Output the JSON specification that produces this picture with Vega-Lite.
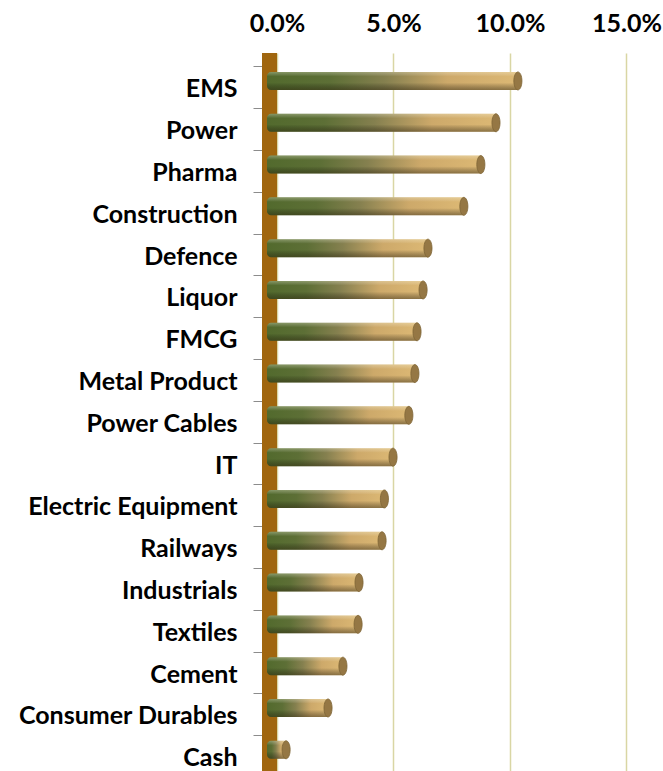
{
  "$schema": "https://vega.github.io/schema/vega-lite/v6.json",
  "autosize": "none",
  "padding": {"left": 277, "top": 53, "right": 0, "bottom": 0},
  "width": 386,
  "height": 718,
  "background": "#ffffff",
  "config": {"view": {"stroke": null}},
  "data": {"values": [
    {"sector": "EMS", "weight": 10.77},
    {"sector": "Power", "weight": 9.83},
    {"sector": "Pharma", "weight": 9.18},
    {"sector": "Construction", "weight": 8.45},
    {"sector": "Defence", "weight": 6.91},
    {"sector": "Liquor", "weight": 6.70},
    {"sector": "FMCG", "weight": 6.44},
    {"sector": "Metal Product", "weight": 6.35},
    {"sector": "Power Cables", "weight": 6.09},
    {"sector": "IT", "weight": 5.41},
    {"sector": "Electric Equipment", "weight": 5.04},
    {"sector": "Railways\u00a0", "weight": 4.94},
    {"sector": "Industrials", "weight": 3.95},
    {"sector": "Textiles", "weight": 3.91},
    {"sector": "Cement", "weight": 3.26},
    {"sector": "Consumer Durables", "weight": 2.62},
    {"sector": "Cash", "weight": 0.82}
  ]},
  "encoding": {
    "y": {
      "field": "sector", "type": "nominal", "sort": null,
      "scale": {"paddingInner": 0.57, "paddingOuter": 0.373, "align": 0.8},
      "axis": {
        "title": null, "orient": "left", "offset": 15,
        "domainColor": "#8c8c8c", "domainWidth": 1,
        "tickColor": "#8c8c8c", "tickSize": 9, "bandPosition": 0, "tickOffset": -11.6,
        "labelFont": "Lato", "labelFontWeight": "bold", "labelFontSize": 25,
        "labelColor": "#000000", "labelPadding": 16, "labelLimit": 300, "labelOffset": 13.6
      }
    },
    "x": {
      "field": "weight", "type": "quantitative", "stack": null,
      "scale": {"domain": [0, 16.57], "nice": false, "zero": true},
      "axis": {
        "title": null, "orient": "top", "values": [0, 5, 10, 15],
        "labelExpr": "format(datum.value, '.1f') + '%'",
        "ticks": false, "domain": false,
        "grid": true, "gridColor": "#d9d6a4", "gridWidth": 1.5,
        "labelFont": "Lato", "labelFontWeight": "bold", "labelFontSize": 25,
        "labelColor": "#000000", "labelPadding": 22, "labelBaseline": "alphabetic",
        "labelFlush": false
      }
    }
  },
  "layer": [
    {
      "data": {"values": [{"wall": 0}]},
      "mark": {"type": "rule", "color": "#A0660F", "strokeWidth": 15, "xOffset": -7.5},
      "encoding": {"x": {"field": "wall", "type": "quantitative"}, "y": null}
    },
    {
      "mark": {
        "type": "bar", "xOffset": -10, "x2Offset": -10, "yOffset": -6, "y2Offset": -6,
        "cornerRadiusTopLeft": 4, "cornerRadiusBottomLeft": 4,
        "color": {
          "gradient": "linear", "x1": 0, "y1": 0, "x2": 1, "y2": 0,
          "stops": [
            {"offset": 0, "color": "#526a2d"},
            {"offset": 0.25, "color": "#5d6f36"},
            {"offset": 0.47, "color": "#85804f"},
            {"offset": 0.72, "color": "#cda96a"},
            {"offset": 1, "color": "#dcb874"}
          ]
        }
      },
      "encoding": {"x2": {"datum": 0}}
    },
    {
      "mark": {
        "type": "bar", "xOffset": -10, "x2Offset": -10, "yOffset": -6, "y2Offset": -6,
        "cornerRadiusTopLeft": 4, "cornerRadiusBottomLeft": 4,
        "color": {
          "gradient": "linear", "x1": 0, "y1": 0, "x2": 0, "y2": 1,
          "stops": [
            {"offset": 0, "color": "rgba(255,255,230,0.3)"},
            {"offset": 0.25, "color": "rgba(255,255,255,0)"},
            {"offset": 0.6, "color": "rgba(0,0,0,0)"},
            {"offset": 1, "color": "rgba(40,30,10,0.45)"}
          ]
        }
      },
      "encoding": {"x2": {"datum": 0}}
    },
    {
      "mark": {
        "type": "point", "filled": true, "xOffset": -10, "yOffset": -6,
        "shape": "M 0 -1 A 0.45 1 0 1 1 0 1 A 0.45 1 0 1 1 0 -1 Z",
        "size": 324, "fill": "#957744", "stroke": "#7d6436", "strokeWidth": 0.8, "opacity": 1
      }
    }
  ]
}
